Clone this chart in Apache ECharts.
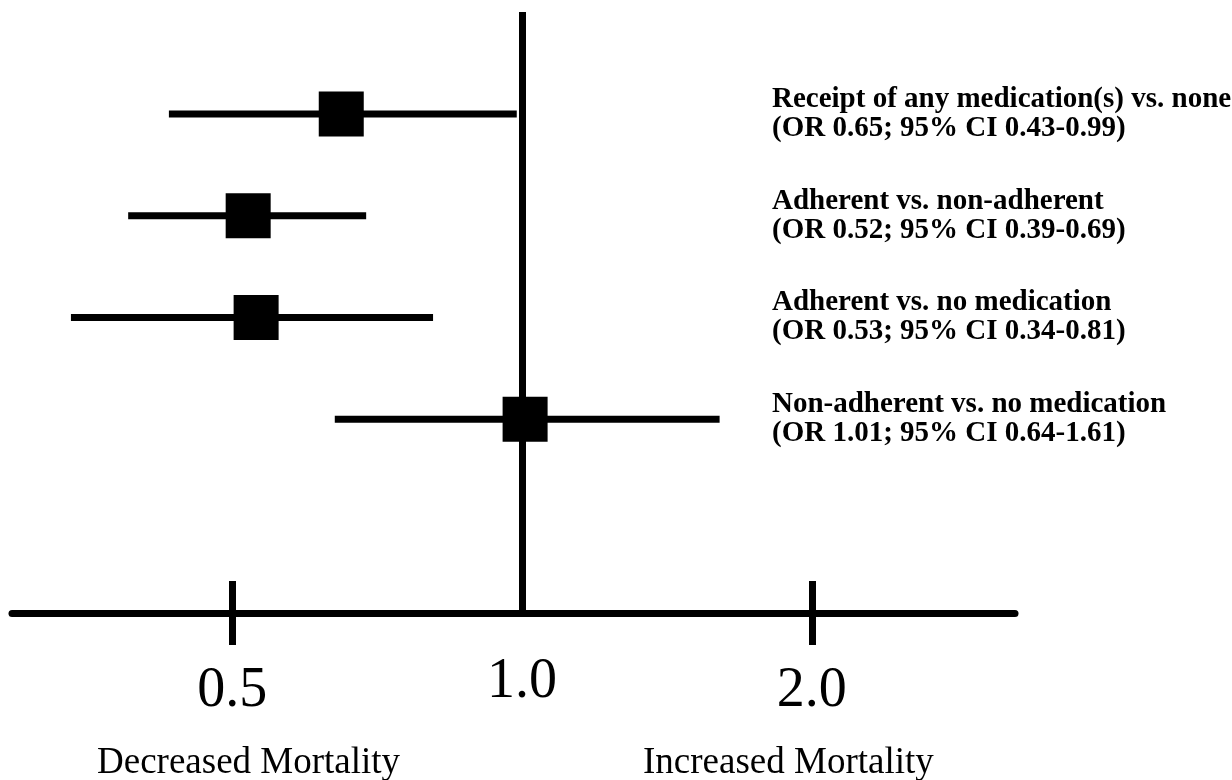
<!DOCTYPE html>
<html>
<head>
<meta charset="utf-8">
<script src="https://cdn.jsdelivr.net/npm/echarts@6/dist/echarts.min.js"></script>
<style>
  html, body { margin: 0; padding: 0; background: #fff; }
  #chart { width: 1232px; height: 780px; }
</style>
</head>
<body>
<div id="chart"></div>
<script>
// comparisons, top to bottom
const comparisons = [
  'Receipt of any medication(s) vs. none',
  'Adherent vs. non-adherent',
  'Adherent vs. no medication',
  'Non-adherent vs. no medication'
]
const oddsRatio = [0.65, 0.52, 0.53, 1.01]
const ciLow = [0.43, 0.39, 0.34, 0.64]
const ciHigh = [0.99, 0.69, 0.81, 1.61]

const sideTicks = [0.5, 2]
const sideLabels = [0.5, 2]
const refLabels = [1]
const refValue = 1

const serif = 'Liberation Serif, Times New Roman, serif'
const xMin = 0.2952
const xMax = 3.252

let chart = echarts.init(document.getElementById('chart'))

const barData = comparisons.map((c, i) => [ciLow[i], ciHigh[i], i])
const pointData = comparisons.map((c, i) => [oddsRatio[i], i])

const logAxis = (extra) => Object.assign({
  type: 'log',
  logBase: 2,
  min: xMin,
  max: xMax,
  splitLine: {show: false},
  minorTick: {show: false}
}, extra)

let option = {
  animation: false,
  backgroundColor: '#fff',
  grid: [
    // rows
    {left: 12, right: 217, top: 63, bottom: 780 - 470},
    // axis + reference line
    {left: 12, right: 217, top: 12, bottom: 780 - 613}
  ],
  xAxis: [
    logAxis({gridIndex: 0, show: false}),
    logAxis({
      gridIndex: 1,
      position: 'bottom',
      axisLine: {lineStyle: {color: '#000', width: 7}},
      axisTick: {customValues: sideTicks, length: 32, lineStyle: {color: '#000', width: 7}},
      axisLabel: {
        customValues: sideLabels,
        margin: 50,
        color: '#000',
        fontFamily: serif,
        fontSize: 56,
        formatter: (v) => Number(v).toFixed(1)
      }
    }),
    logAxis({
      gridIndex: 1,
      position: 'bottom',
      axisLine: {show: false},
      axisTick: {customValues: sideTicks, inside: true, length: 32, lineStyle: {color: '#000', width: 7}},
      axisLabel: {
        customValues: refLabels,
        margin: 41,
        color: '#000',
        fontFamily: serif,
        fontSize: 56,
        formatter: (v) => Number(v).toFixed(1)
      }
    })
  ],
  yAxis: [
    {
      gridIndex: 0,
      type: 'category',
      data: comparisons,
      inverse: true,
      axisLine: {show: false},
      axisTick: {show: false},
      axisLabel: {
        interval: 0,
        align: 'left',
        margin: -760,
        color: '#000',
        fontFamily: serif,
        fontWeight: 'bold',
        fontSize: 29,
        lineHeight: 29,
        formatter: (v, i) => v + '\n(OR ' + oddsRatio[i].toFixed(2) + '; 95% CI ' +
          ciLow[i].toFixed(2) + '-' + ciHigh[i].toFixed(2) + ')'
      }
    },
    {gridIndex: 1, type: 'value', min: 0, max: 1, show: false}
  ],
  graphic: [
    {
      type: 'text', left: 97, top: 745,
      style: {text: 'Decreased Mortality', fill: '#000', font: '37px ' + serif}
    },
    {
      type: 'text', left: 643, top: 745,
      style: {text: 'Increased Mortality', fill: '#000', font: '37px ' + serif}
    }
  ],
  series: [
    {
      // reference line at OR = 1
      type: 'line',
      xAxisIndex: 1,
      yAxisIndex: 1,
      data: [],
      markLine: {
        silent: true,
        symbol: 'none',
        label: {show: false},
        lineStyle: {color: '#000', width: 7, type: 'solid'},
        data: [{xAxis: refValue}]
      }
    },
    {
      // confidence intervals
      type: 'custom',
      xAxisIndex: 0,
      yAxisIndex: 0,
      data: barData,
      encode: {x: [0, 1], y: 2},
      renderItem: (params, api) => {
        const a = api.coord([api.value(0), api.value(2)])
        const b = api.coord([api.value(1), api.value(2)])
        return {
          type: 'line',
          shape: {x1: a[0], y1: a[1], x2: b[0], y2: b[1]},
          style: {stroke: '#000', lineWidth: 7}
        }
      }
    },
    {
      // odds ratios
      type: 'scatter',
      xAxisIndex: 0,
      yAxisIndex: 0,
      data: pointData,
      symbol: 'rect',
      symbolSize: 45,
      itemStyle: {color: '#000', opacity: 1},
      emphasis: {disabled: true},
      z: 5
    }
  ]
}

chart.setOption(option)
</script>
</body>
</html>
